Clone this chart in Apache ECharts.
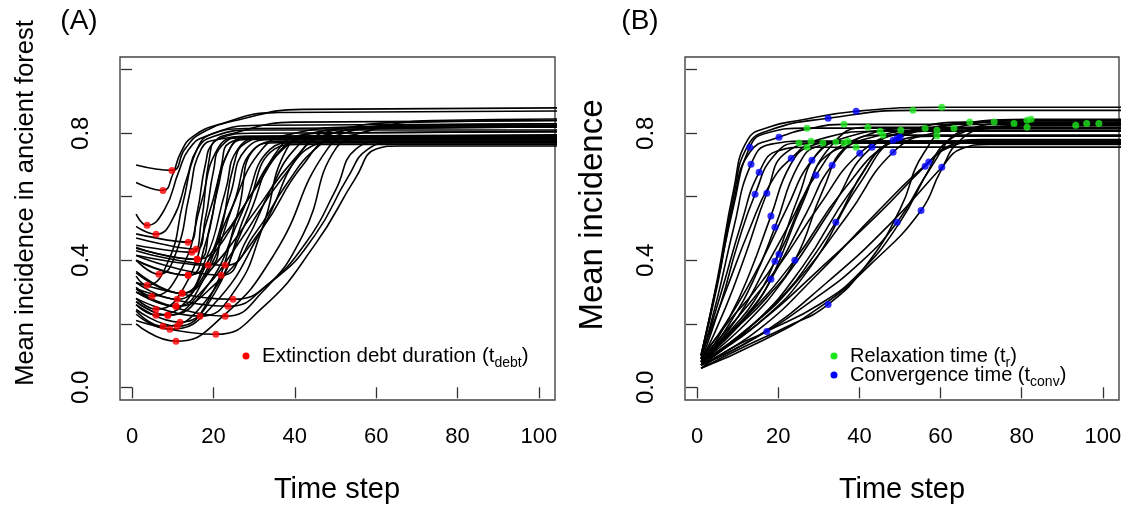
<!DOCTYPE html>
<html><head><meta charset="utf-8">
<script src="https://cdn.jsdelivr.net/npm/echarts@6/dist/echarts.min.js"></script>
<style>html,body{margin:0;padding:0;background:#fff}#c{width:1134px;height:508px}</style>
</head><body><div id="c"></div>
<script>
const FONT = '"Liberation Sans", Arial, Helvetica, sans-serif';
const xTicks = [0, 20, 40, 60, 80, 100];
const yTicks = [0, 0.2, 0.4, 0.6, 0.8, 1.0];
const yLabelTicks = [0, 0.4, 0.8];

// Panel A: mean incidence in ancient forest, one knot list per simulation run
const curvesA = [
 [[1,0.70],[9.8,0.683],[13,0.75],[17,0.80],[27,0.845],[42,0.875],[106,0.88]],
 [[1,0.645],[7.6,0.62],[10,0.67],[12,0.74],[15,0.79],[22,0.83],[35,0.865],[106,0.87]],
 [[1,0.545],[3.7,0.51],[8,0.56],[11.5,0.68],[14,0.75],[18,0.79],[28,0.815],[106,0.82]],
 [[1,0.507],[5.9,0.482],[10,0.53],[13.5,0.66],[16,0.75],[20,0.79],[30,0.81],[106,0.81]],
 [[1,0.483],[13.8,0.457],[16,0.55],[18,0.70],[20,0.77],[25,0.80],[40,0.835],[106,0.84]],
 [[1,0.47],[15.7,0.435],[18,0.53],[20,0.68],[22,0.76],[28,0.79],[106,0.795]],
 [[1,0.447],[14.7,0.425],[17,0.52],[19,0.72],[21,0.78],[30,0.80],[106,0.805]],
 [[1,0.438],[16.0,0.403],[19,0.50],[22,0.70],[24,0.77],[30,0.785],[106,0.785]],
 [[1,0.416],[18.7,0.384],[22,0.50],[25,0.70],[28,0.77],[35,0.79],[106,0.79]],
 [[1,0.43],[22.9,0.384],[30,0.48],[38,0.64],[45,0.75],[52,0.80],[65,0.825],[106,0.83]],
 [[1,0.40],[6.6,0.356],[11,0.43],[14,0.60],[17,0.75],[21,0.78],[30,0.79],[106,0.79]],
 [[1,0.40],[13.8,0.353],[18,0.45],[21,0.62],[24,0.75],[28,0.78],[106,0.78]],
 [[1,0.415],[21.9,0.353],[28,0.46],[34,0.62],[40,0.75],[46,0.79],[60,0.815],[106,0.82]],
 [[1,0.35],[3.7,0.321],[9,0.40],[12.5,0.58],[16,0.75],[20,0.80],[32,0.825],[106,0.83]],
 [[1,0.315],[4.9,0.287],[12,0.37],[17,0.58],[21,0.75],[26,0.785],[106,0.79]],
 [[1,0.365],[12.3,0.296],[18,0.40],[23,0.62],[26,0.75],[32,0.785],[106,0.785]],
 [[1,0.33],[11.1,0.277],[18,0.38],[24,0.60],[28,0.75],[35,0.78],[106,0.78]],
 [[1,0.30],[10.8,0.255],[18,0.35],[25,0.58],[30,0.75],[37,0.775],[106,0.775]],
 [[1,0.33],[24.8,0.277],[35,0.34],[45,0.48],[53,0.66],[58,0.75],[64,0.77],[106,0.77]],
 [[1,0.31],[23.6,0.255],[33,0.32],[43,0.46],[50,0.62],[55,0.75],[62,0.775],[106,0.775]],
 [[1,0.28],[5.9,0.246],[13,0.32],[19,0.55],[24,0.75],[28,0.785],[106,0.785]],
 [[1,0.26],[5.9,0.227],[15,0.30],[24,0.55],[32,0.75],[40,0.80],[55,0.82],[106,0.825]],
 [[1,0.27],[8.8,0.227],[18,0.31],[27,0.55],[34,0.75],[40,0.77],[106,0.77]],
 [[1,0.28],[16.7,0.224],[25,0.30],[32,0.50],[38,0.75],[44,0.79],[106,0.79]],
 [[1,0.30],[22.9,0.224],[32,0.30],[42,0.48],[50,0.75],[56,0.78],[106,0.78]],
 [[1,0.24],[7.6,0.192],[18,0.27],[28,0.52],[36,0.75],[44,0.80],[60,0.82],[106,0.825]],
 [[1,0.23],[9.3,0.183],[20,0.26],[32,0.50],[42,0.75],[50,0.81],[70,0.835],[106,0.84]],
 [[1,0.245],[11.1,0.192],[19,0.28],[26,0.55],[30,0.75],[36,0.77],[106,0.77]],
 [[1,0.26],[11.8,0.205],[20,0.29],[28,0.55],[35,0.75],[41,0.765],[106,0.765]],
 [[1,0.21],[20.6,0.167],[32,0.25],[45,0.45],[55,0.66],[60,0.75],[66,0.76],[106,0.76]],
 [[1,0.20],[10.8,0.145],[22,0.22],[35,0.42],[48,0.75],[56,0.80],[74,0.84],[106,0.845]],
 [[1,0.36],[12.3,0.296],[20,0.38],[30,0.55],[40,0.72],[47,0.79],[60,0.815],[106,0.82]],
 [[1,0.31],[10.8,0.255],[20,0.32],[32,0.50],[42,0.70],[50,0.78],[106,0.785]],
 [[1,0.27],[8.8,0.227],[17,0.30],[26,0.45],[37,0.66],[46,0.77],[55,0.79],[106,0.79]],
 [[1,0.40],[13.8,0.353],[20,0.42],[28,0.58],[36,0.74],[42,0.78],[106,0.78]],
 [[1,0.44],[16.0,0.403],[22,0.47],[30,0.62],[38,0.76],[46,0.80],[106,0.805]]
];

// Panel A: extinction debt duration points (red)
const debtA = [
 [9.8,0.683],[7.6,0.62],[3.7,0.51],[5.9,0.482],[13.8,0.457],[15.7,0.435],[14.7,0.425],
 [16.0,0.403],[18.7,0.384],[22.9,0.384],[6.6,0.356],[13.8,0.353],[21.9,0.353],[3.7,0.321],
 [4.9,0.287],[12.3,0.296],[11.1,0.277],[10.8,0.255],[24.8,0.277],[23.6,0.255],[5.9,0.246],
 [5.9,0.227],[8.8,0.227],[16.7,0.224],[22.9,0.224],[7.6,0.192],[9.3,0.183],[11.1,0.192],
 [11.8,0.205],[20.6,0.167],[10.8,0.145],[12.3,0.296],[10.8,0.255],[8.8,0.227],[13.8,0.353],
 [16.0,0.403]
];

// Panel B: mean incidence, one knot list per simulation run
const curvesB = [
 [[1,0.10],[5,0.33],[9,0.57],[13,0.756],[17,0.80],[27.1,0.816],[106,0.816]],
 [[1,0.09],[5,0.28],[9,0.50],[13.3,0.702],[18,0.765],[28.1,0.775],[106,0.775]],
 [[1,0.08],[6,0.27],[10,0.45],[14.3,0.608],[19,0.73],[25.1,0.769],[106,0.769]],
 [[1,0.09],[6,0.30],[11,0.52],[15.3,0.677],[20,0.745],[27.1,0.756],[106,0.756]],
 [[1,0.08],[7,0.25],[12,0.42],[17.2,0.611],[22,0.74],[31,0.769],[106,0.769]],
 [[1,0.07],[8,0.22],[13,0.36],[18.2,0.539],[23,0.70],[28,0.76],[34.2,0.772],[106,0.772]],
 [[1,0.07],[8,0.20],[14,0.34],[19.2,0.504],[25,0.70],[30,0.76],[36.2,0.769],[106,0.769]],
 [[1,0.10],[5,0.32],[9,0.58],[13,0.74],[20.2,0.787],[28,0.815],[36.2,0.828],[106,0.828]],
 [[1,0.08],[9,0.19],[14,0.27],[19.2,0.397],[25,0.60],[30,0.74],[37.2,0.775],[106,0.775]],
 [[1,0.09],[8,0.21],[14,0.30],[20.2,0.419],[27,0.62],[32,0.73],[39.2,0.756],[106,0.756]],
 [[1,0.07],[8,0.17],[13,0.24],[18.2,0.34],[26,0.58],[33,0.76],[42.1,0.819],[106,0.819]],
 [[1,0.10],[7,0.30],[13,0.50],[18,0.64],[23.2,0.721],[30,0.78],[45.1,0.806],[106,0.806]],
 [[1,0.08],[10,0.19],[17,0.28],[24.1,0.40],[31,0.62],[37,0.76],[45.8,0.794],[106,0.794]],
 [[1,0.09],[9,0.24],[16,0.40],[22,0.56],[28.3,0.715],[35,0.78],[50.2,0.809],[106,0.809]],
 [[1,0.08],[10,0.22],[17,0.38],[23,0.52],[29.3,0.668],[37,0.77],[56.2,0.816],[106,0.816]],
 [[1,0.10],[5,0.33],[9,0.60],[12.5,0.76],[18,0.81],[32.3,0.847],[53.2,0.872],[106,0.872]],
 [[1,0.10],[5,0.34],[9,0.62],[12.5,0.78],[18,0.82],[25,0.84],[39.2,0.869],[60.3,0.882],[106,0.882]],
 [[1,0.08],[12,0.22],[20,0.38],[27,0.55],[33.3,0.699],[41,0.78],[59.1,0.809],[106,0.809]],
 [[1,0.07],[12,0.18],[22,0.30],[28,0.40],[34.2,0.52],[42,0.70],[48,0.77],[59.1,0.791],[106,0.791]],
 [[1,0.06],[12,0.13],[22,0.19],[32.3,0.261],[42,0.39],[50,0.56],[56,0.74],[63.3,0.816],[106,0.816]],
 [[1,0.09],[10,0.22],[20,0.38],[30,0.57],[40.1,0.737],[50,0.80],[67.2,0.835],[106,0.835]],
 [[1,0.08],[12,0.20],[22,0.35],[33,0.56],[43.1,0.756],[55,0.81],[73.2,0.835],[106,0.835]],
 [[1,0.06],[8,0.12],[17.2,0.176],[30,0.26],[40,0.36],[50,0.52],[58,0.70],[65,0.80],[78.1,0.831],[106,0.831]],
 [[1,0.08],[14,0.20],[25,0.34],[37,0.54],[48.3,0.74],[58,0.80],[81.3,0.841],[106,0.841]],
 [[1,0.09],[12,0.22],[24,0.40],[36,0.62],[48.3,0.778],[60,0.82],[82.3,0.844],[106,0.844]],
 [[1,0.07],[14,0.20],[26,0.38],[38,0.62],[49.3,0.784],[60,0.81],[81.3,0.819],[106,0.819]],
 [[1,0.08],[15,0.20],[28,0.38],[40,0.64],[50,0.787],[62,0.815],[93.3,0.825],[106,0.825]],
 [[1,0.07],[15,0.16],[28,0.27],[40,0.39],[49.3,0.52],[56,0.66],[62,0.78],[70,0.815],[96,0.831],[106,0.831]],
 [[1,0.06],[15,0.14],[30,0.25],[43,0.39],[55.2,0.557],[60,0.68],[65,0.78],[72,0.815],[99,0.831],[106,0.831]],
 [[1,0.08],[15,0.20],[30,0.37],[45,0.55],[56.2,0.696],[62,0.76],[70,0.78],[106,0.78]],
 [[1,0.07],[15,0.18],[30,0.36],[45,0.56],[57.1,0.709],[63,0.76],[70,0.775],[106,0.775]],
 [[1,0.07],[16,0.17],[32,0.33],[48,0.52],[60.3,0.693],[65,0.75],[72,0.765],[106,0.765]]
];

// Panel B: relaxation time points (green)
const relaxB = [
 [27.1,0.816],[28.1,0.775],[25.1,0.769],[27.1,0.756],[31,0.769],[34.2,0.772],[36.2,0.769],
 [36.2,0.828],[37.2,0.775],[39.2,0.756],[42.1,0.819],[45.1,0.806],[45.8,0.794],[50.2,0.809],
 [56.2,0.816],[53.2,0.872],[60.3,0.882],[59.1,0.809],[59.1,0.791],[63.3,0.816],[67.2,0.835],
 [73.2,0.835],[78.1,0.831],[81.3,0.841],[82.3,0.844],[81.3,0.819],[93.3,0.825],[96,0.831],[99,0.831]
];

// Panel B: convergence time points (blue)
const convB = [
 [13,0.756],[13.3,0.702],[14.3,0.608],[15.3,0.677],[17.2,0.611],[18.2,0.539],[19.2,0.504],
 [20.2,0.787],[19.2,0.397],[20.2,0.419],[18.2,0.34],[23.2,0.721],[24.1,0.40],[28.3,0.715],
 [29.3,0.668],[32.3,0.847],[39.2,0.869],[33.3,0.699],[34.2,0.52],[32.3,0.261],[40.1,0.737],
 [43.1,0.756],[17.2,0.176],[48.3,0.74],[48.3,0.778],[49.3,0.784],[50,0.787],[49.3,0.52],
 [55.2,0.557],[56.2,0.696],[57.1,0.709],[60.3,0.693]
];

const chart = echarts.init(document.getElementById('c'), null, {renderer: 'canvas'});

function xAxisDef(gi) {
  return {
    type: 'value', gridIndex: gi, min: -2.96, max: 103.96,
    axisLine: {show: false},
    splitLine: {show: false},
    axisTick: {show: true, inside: false, length: 11, customValues: xTicks,
               lineStyle: {color: '#333', width: 1.3}},
    axisLabel: {show: true, customValues: xTicks, margin: 26,
                fontSize: 22, fontFamily: FONT, color: '#000'}
  };
}
function yAxisDef(gi) {
  return {
    type: 'value', gridIndex: gi, min: -0.04, max: 1.04,
    axisLine: {show: false},
    splitLine: {show: false},
    axisTick: {show: true, inside: false, length: 11, customValues: yTicks,
               lineStyle: {color: '#333', width: 1.3}},
    axisLabel: {show: true, customValues: yLabelTicks, rotate: 90, margin: 27,
                fontSize: 24, fontFamily: FONT, color: '#000',
                formatter: v => Number(v).toFixed(1)}
  };
}

const series = [];
curvesA.forEach(c => series.push({
  type: 'line', xAxisIndex: 0, yAxisIndex: 0, data: c, smooth: 0.5,
  symbol: 'none', silent: true, z: 2, lineStyle: {color: '#000', width: 1.6}
}));
curvesB.forEach(c => series.push({
  type: 'line', xAxisIndex: 1, yAxisIndex: 1, data: c, smooth: 0.5,
  symbol: 'none', silent: true, z: 2, lineStyle: {color: '#000', width: 1.6}
}));
series.push({type: 'scatter', xAxisIndex: 0, yAxisIndex: 0, data: debtA,
  symbolSize: 7, itemStyle: {color: '#ff0000'}, z: 5, silent: true});
series.push({type: 'scatter', xAxisIndex: 1, yAxisIndex: 1, data: relaxB,
  symbolSize: 7, itemStyle: {color: '#1ee61e'}, z: 5, silent: true});
series.push({type: 'scatter', xAxisIndex: 1, yAxisIndex: 1, data: convB,
  symbolSize: 7, itemStyle: {color: '#0000ff'}, z: 6, silent: true});

const richBase = {fontSize: 20, fontFamily: FONT, color: '#000', lineHeight: 28, verticalAlign: 'middle'};
const richSub = {fontSize: 14, fontFamily: FONT, color: '#000', lineHeight: 14, verticalAlign: 'bottom'};
const richBaseA = Object.assign({}, richBase, {fontSize: 20.5});

const graphic = [
  {type: 'text', x: 79, y: 21, style: {text: '(A)', font: '28px ' + FONT, fill: '#000', align: 'center', verticalAlign: 'middle'}},
  {type: 'text', x: 640, y: 21, style: {text: '(B)', font: '28px ' + FONT, fill: '#000', align: 'center', verticalAlign: 'middle'}},
  {type: 'text', x: 337, y: 490, style: {text: 'Time step', font: '29px ' + FONT, fill: '#000', align: 'center', verticalAlign: 'middle'}},
  {type: 'text', x: 902, y: 490, style: {text: 'Time step', font: '29px ' + FONT, fill: '#000', align: 'center', verticalAlign: 'middle'}},
  {type: 'text', x: 26, y: 203, rotation: Math.PI / 2, style: {text: 'Mean incidence in ancient forest', font: '25.5px ' + FONT, fill: '#000', align: 'center', verticalAlign: 'middle'}},
  {type: 'text', x: 593, y: 215, rotation: Math.PI / 2, style: {text: 'Mean incidence', font: '33px ' + FONT, fill: '#000', align: 'center', verticalAlign: 'middle'}},
  {type: 'circle', shape: {cx: 246, cy: 356, r: 3.5}, style: {fill: '#ff0000'}},
  {type: 'text', x: 262, y: 356, style: {text: '{a|Extinction debt duration (t}{s|debt}{a|)}', rich: {a: richBaseA, s: richSub}, align: 'left', verticalAlign: 'middle'}},
  {type: 'circle', shape: {cx: 834, cy: 356, r: 3.5}, style: {fill: '#1ee61e'}},
  {type: 'text', x: 850, y: 356, style: {text: '{a|Relaxation time (t}{s|r}{a|)}', rich: {a: richBase, s: richSub}, align: 'left', verticalAlign: 'middle'}},
  {type: 'circle', shape: {cx: 834, cy: 375, r: 3.5}, style: {fill: '#0000ff'}},
  {type: 'text', x: 850, y: 375, style: {text: '{a|Convergence time (t}{s|conv}{a|)}', rich: {a: richBase, s: richSub}, align: 'left', verticalAlign: 'middle'}}
];

chart.setOption({
  animation: false,
  backgroundColor: '#fff',
  grid: [
    {left: 120, top: 57, width: 435, height: 343, show: true, borderColor: '#444', borderWidth: 1.4, backgroundColor: 'transparent', containLabel: false},
    {left: 685, top: 57, width: 434, height: 343, show: true, borderColor: '#444', borderWidth: 1.4, backgroundColor: 'transparent', containLabel: false}
  ],
  xAxis: [xAxisDef(0), xAxisDef(1)],
  yAxis: [yAxisDef(0), yAxisDef(1)],
  series: series,
  graphic: graphic
});
</script></body></html>
